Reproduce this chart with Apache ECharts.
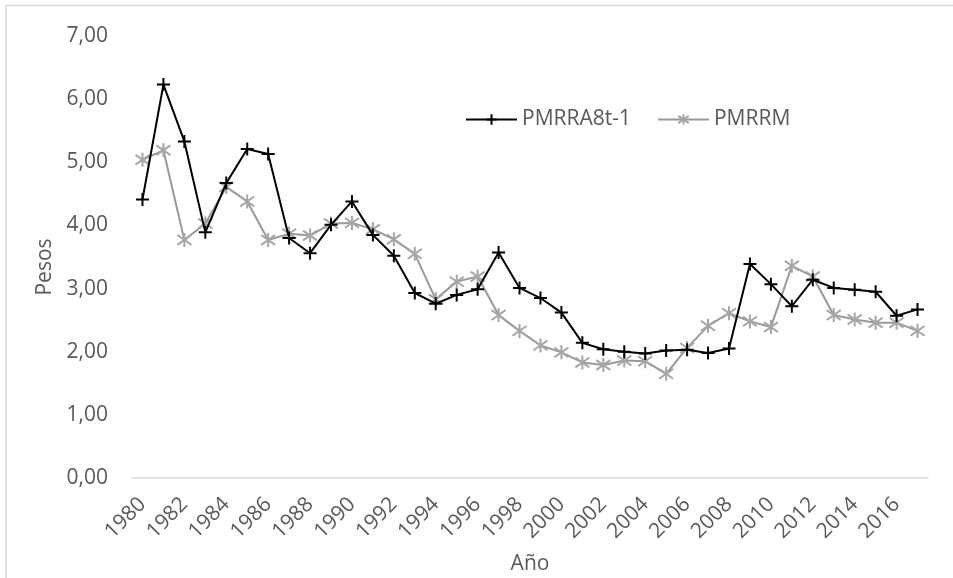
<!DOCTYPE html>
<html>
<head>
<meta charset="utf-8">
<script src="https://cdn.jsdelivr.net/npm/echarts@6/dist/echarts.min.js"></script>
<style>
  html, body { margin: 0; padding: 0; background: #fff; }
  #chart { width: 953px; height: 578px; }
</style>
</head>
<body>
<div id="chart"></div>
<script>
// Years on the category axis
const years = [];
for (let y = 1980; y <= 2017; y++) years.push(String(y));

// Series values (pesos)
const pmrra8t1 = [4.41, 6.23, 5.33, 3.89, 4.67, 5.21, 5.13, 3.80, 3.56, 4.01,
                  4.38, 3.85, 3.52, 2.93, 2.76, 2.90, 2.99, 3.57, 3.01, 2.85,
                  2.62, 2.14, 2.04, 2.00, 1.97, 2.02, 2.03, 1.98, 2.05, 3.39,
                  3.07, 2.72, 3.14, 3.01, 2.98, 2.95, 2.57, 2.67];
const pmrrm = [5.04, 5.19, 3.77, 4.03, 4.61, 4.38, 3.77, 3.87, 3.84, 4.03,
               4.04, 3.94, 3.78, 3.55, 2.83, 3.11, 3.19, 2.58, 2.33, 2.10,
               1.99, 1.83, 1.79, 1.86, 1.85, 1.65, 2.06, 2.41, 2.61, 2.48,
               2.39, 3.36, 3.19, 2.58, 2.51, 2.46, 2.46, 2.33];

// Value axis range and tick labels
const yMin = 0, yMax = 7, yStep = 1;

const FONT = '"Open Sans", "Noto Sans", sans-serif';
const TXT = '#595959';
const FS = 21;

const plusPath = 'path://M0,5L10,5M5,0L5,10';
const starPath = 'path://M5,0L5,10M1.5,1.5L8.5,8.5M8.5,1.5L1.5,8.5';

const chart = echarts.init(document.getElementById('chart'), null, { renderer: 'canvas' });
chart.setOption({
  animation: false,
  backgroundColor: '#fff',
  textStyle: { fontFamily: FONT },
  grid: { left: 132, right: 25, top: 36, bottom: 100, containLabel: false },
  legend: {
    left: 460, top: 104,
    itemWidth: 51, itemHeight: 13, itemGap: 26,
    textStyle: { color: TXT, fontSize: FS, fontFamily: FONT },
    data: ['PMRRA8t-1', 'PMRRM']
  },
  xAxis: {
    type: 'category',
    data: years,
    boundaryGap: true,
    axisLine: { lineStyle: { color: '#D9D9D9', width: 1.5 } },
    axisTick: { show: false },
    axisLabel: { interval: 1, rotate: 45, margin: 23, color: TXT, fontSize: FS, fontFamily: FONT },
    splitLine: { show: false }
  },
  yAxis: {
    type: 'value',
    min: yMin, max: yMax, interval: yStep,
    axisLine: { show: false },
    axisTick: { show: false },
    splitLine: { show: false },
    axisLabel: {
      margin: 24, color: TXT, fontSize: FS, fontFamily: FONT,
      formatter: v => v.toFixed(2).replace('.', ',')
    }
  },
  series: [
    {
      name: 'PMRRA8t-1', type: 'line', data: pmrra8t1,
      symbol: plusPath, symbolSize: 13, showAllSymbol: true,
      lineStyle: { color: '#000', width: 2 },
      itemStyle: { color: 'none', borderColor: '#000', borderWidth: 2 },
      z: 3
    },
    {
      name: 'PMRRM', type: 'line', data: pmrrm,
      symbol: starPath, symbolSize: 14, showAllSymbol: true,
      lineStyle: { color: '#999999', width: 2 },
      itemStyle: { color: 'none', borderColor: '#A6A6A6', borderWidth: 2 },
      z: 2
    }
  ],
  graphic: [
    {
      type: 'rect', silent: true,
      shape: { x: 6, y: 5.5, width: 1200, height: 1200 },
      style: { fill: 'none', stroke: '#D9D9D9', lineWidth: 1.5 }
    },
    {
      type: 'text', x: 530, y: 564,
      style: { text: 'Año', fill: TXT, fontSize: FS, fontFamily: FONT, align: 'center', verticalAlign: 'middle' }
    },
    {
      type: 'text', x: 45, y: 267, rotation: Math.PI / 2,
      style: { text: 'Pesos', fill: TXT, fontSize: FS, fontFamily: FONT, align: 'center', verticalAlign: 'middle' }
    }
  ]
});
</script>
</body>
</html>
